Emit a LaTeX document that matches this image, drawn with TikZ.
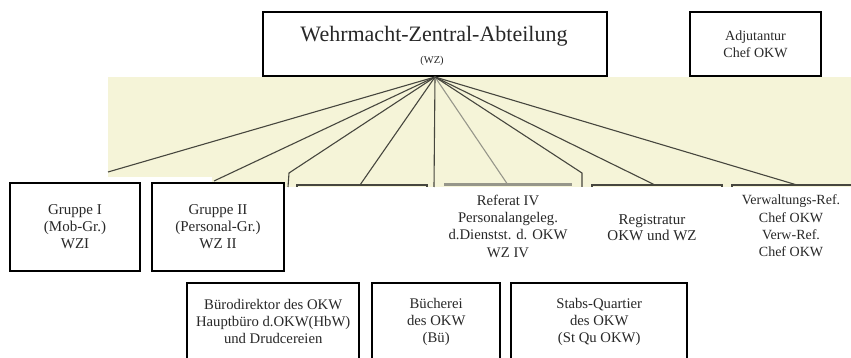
\documentclass[tikz,border=0pt]{standalone}
\usepackage{fontspec}
\setmainfont{Liberation Serif}
\definecolor{stripcol}{RGB}{245,244,216}
\definecolor{inkcol}{RGB}{40,40,40}
\definecolor{scancol}{RGB}{70,70,62}
\definecolor{fadecol}{RGB}{150,150,138}
\begin{document}
\begin{tikzpicture}[x=1pt,y=-1pt,
  box/.style={draw=black, line width=2pt, fill=white, inner sep=0pt, anchor=north west,
    align=center, font=\fontsize{15}{17}\selectfont, text=inkcol},
  openbox/.style={inner sep=0pt, anchor=north west, align=center,
    font=\fontsize{14.7}{17}\selectfont, text=inkcol},
  frame/.style={draw=black, line width=2pt},
  txt/.style={align=center, inner sep=0pt, font=\fontsize{14.7}{17.3}\selectfont, text=inkcol},
  fan/.style={draw=scancol, line width=1.1pt},
  fanfade/.style={draw=fadecol, line width=1.1pt},
  scantop/.style={draw=scancol, line width=2pt},
  scantopfade/.style={draw=fadecol, line width=3pt}]
\useasboundingbox (0,0) rectangle (851,358);
\fill[white] (0,0) rectangle (851,358);
% scanned strip
\fill[stripcol] (108,77) rectangle (851,187);
\fill[white] (108,177) rectangle (212,187);
% top boxes
\node[box, minimum width=344, minimum height=64] (wz) at (262,11) {};
\node[txt, font=\fontsize{22}{26}\selectfont] (wzt) at (434,36) {Wehrmacht-Zentral-Abteilung};
\node[txt, font=\fontsize{10.5}{12}\selectfont] (wzs) at (432,61) {(WZ)};
\node[box, minimum width=131, minimum height=64, font=\fontsize{14}{17}\selectfont] (adj) at (689,11) {Adjutantur\\Chef OKW};
% scanned box tops
\draw[scantop] (297,187) -- (297,185) -- (427,185) -- (427,187);
\draw[scantopfade] (444,185) -- (572,185);
\draw[scantop] (592,187) -- (592,185) -- (722,185) -- (722,187);
\draw[scantop] (732,187) -- (732,185) -- (851,185);
% fan end points
\coordinate (e1) at (108,172);
\coordinate (e2) at (214,181);
\coordinate (k3) at (289,173);
\coordinate (e3) at (288,187);
\coordinate (e4) at (360,185);
\coordinate (e5) at (434,187);
\coordinate (e6) at (508,185);
\coordinate (k7) at (582,173);
\coordinate (e7) at (582,187);
\coordinate (e8) at (655,185);
\coordinate (e9) at (797,185);
\draw[fan] (wz.south) -- (e1);
\draw[fan] (wz.south) -- (e2);
\draw[fan] (wz.south) -- (k3) -- (e3);
\draw[fan] (wz.south) -- (e4);
\draw[fan] (wz.south) -- (e5);
\draw[fanfade] (wz.south) -- (e6);
\draw[fan] (wz.south) -- (k7) -- (e7);
\draw[fan] (wz.south) -- (e8);
\draw[fan] (wz.south) -- (e9);
% middle row
\node[box, minimum width=130, minimum height=88] (g1) at (9,182) {Gruppe I\\(Mob-Gr.)\\WZI};
\node[box, minimum width=132, minimum height=88] (g2) at (151,182) {Gruppe II\\(Personal-Gr.)\\WZ II};
\node[txt] (ref) at (508,226) {Referat IV\\Personalangeleg.\\d.Dienstst. d. OKW\\WZ IV};
\node[txt, font=\fontsize{15}{16}\selectfont] (reg) at (652,228) {Registratur\\OKW und WZ};
\node[txt, font=\fontsize{14}{17.3}\selectfont] (ver) at (791,226) {Verwaltungs-Ref.\\Chef OKW\\Verw-Ref.\\Chef OKW};
% bottom row
\node[openbox, minimum width=172, minimum height=77] (bd) at (187,283) {Bürodirektor des OKW\\Hauptbüro d.OKW(HbW)\\und Drudcereien};
\node[openbox, minimum width=128, minimum height=77] (bu) at (372,283) {Bücherei\\des OKW\\(Bü)};
\node[openbox, minimum width=176, minimum height=77] (sq) at (511,283) {Stabs-Quartier\\des OKW\\(St Qu OKW)};
\draw[frame] (bd.south west) |- (bd.north east) -- (bd.south east);
\draw[frame] (bu.south west) |- (bu.north east) -- (bu.south east);
\draw[frame] (sq.south west) |- (sq.north east) -- (sq.south east);
\end{tikzpicture}
\end{document}
